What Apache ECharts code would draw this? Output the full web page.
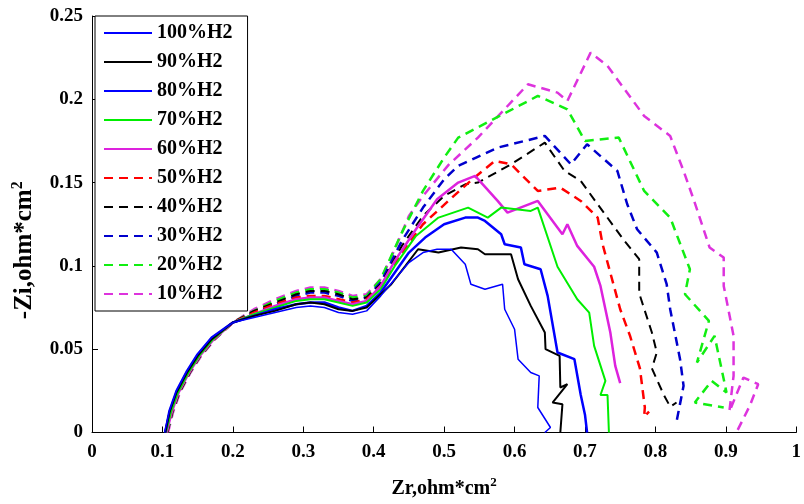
<!DOCTYPE html>
<html>
<head>
<meta charset="utf-8">
<script src="https://cdn.jsdelivr.net/npm/echarts@6/dist/echarts.min.js"></script>
<style>html,body{margin:0;padding:0;background:#fff}#c{width:804px;height:504px}</style>
</head>
<body>
<div id="c"></div>
<script>
const seriesNames = ['100%H2','90%H2','80%H2','70%H2','60%H2','50%H2','40%H2','30%H2','20%H2','10%H2'];
const xTicks = [0,0.1,0.2,0.3,0.4,0.5,0.6,0.7,0.8,0.9,1];
const yTicks = [0,0.05,0.1,0.15,0.2,0.25];

const h100 = [[0.103,0],[0.11,0.013],[0.12,0.025],[0.135,0.037],[0.15,0.047],[0.17,0.057],[0.2,0.066],[0.23,0.069],[0.26,0.072],[0.29,0.075],[0.31,0.076],[0.33,0.075],[0.35,0.072],[0.37,0.071],[0.39,0.073],[0.41,0.082],[0.43,0.092],[0.45,0.102],[0.47,0.108],[0.49,0.11],[0.51,0.11],[0.53,0.101],[0.538,0.089],[0.558,0.086],[0.583,0.089],[0.586,0.074],[0.6,0.062],[0.605,0.044],[0.623,0.036],[0.635,0.034],[0.633,0.015],[0.651,0.003],[0.643,0]];
const h90 = [[0.104,0],[0.11,0.012],[0.12,0.024],[0.135,0.036],[0.15,0.046],[0.17,0.056],[0.2,0.066],[0.23,0.07],[0.26,0.073],[0.29,0.077],[0.31,0.078],[0.33,0.077],[0.35,0.074],[0.37,0.073],[0.39,0.075],[0.41,0.083],[0.425,0.089],[0.445,0.1],[0.463,0.11],[0.492,0.108],[0.524,0.111],[0.548,0.11],[0.558,0.107],[0.586,0.107],[0.595,0.107],[0.605,0.092],[0.623,0.076],[0.643,0.06],[0.644,0.05],[0.664,0.046],[0.665,0.027],[0.675,0.029],[0.654,0.018],[0.668,0.017],[0.665,0]];
const h80 = [[0.104,0],[0.11,0.013],[0.12,0.025],[0.135,0.037],[0.15,0.047],[0.17,0.057],[0.2,0.066],[0.23,0.07],[0.26,0.074],[0.29,0.077],[0.31,0.078],[0.33,0.078],[0.35,0.075],[0.37,0.073],[0.39,0.076],[0.41,0.084],[0.43,0.096],[0.45,0.108],[0.473,0.117],[0.5,0.125],[0.53,0.129],[0.548,0.129],[0.558,0.127],[0.581,0.119],[0.586,0.113],[0.609,0.111],[0.614,0.101],[0.637,0.098],[0.647,0.082],[0.661,0.048],[0.685,0.044],[0.694,0.0225],[0.7,0.0107],[0.703,0]];
const h70 = [[0.105,0],[0.112,0.012],[0.122,0.024],[0.137,0.036],[0.152,0.046],[0.172,0.056],[0.2,0.066],[0.23,0.071],[0.26,0.075],[0.29,0.079],[0.31,0.08],[0.33,0.08],[0.35,0.078],[0.37,0.076],[0.39,0.078],[0.41,0.086],[0.43,0.1],[0.46,0.118],[0.492,0.129],[0.534,0.135],[0.562,0.129],[0.581,0.135],[0.623,0.133],[0.633,0.135],[0.661,0.0995],[0.689,0.08],[0.706,0.072],[0.713,0.052],[0.729,0.031],[0.722,0.0225],[0.732,0.0225],[0.734,0]];
const h60 = [[0.106,0],[0.113,0.012],[0.123,0.024],[0.138,0.036],[0.153,0.046],[0.173,0.056],[0.2,0.066],[0.23,0.071],[0.26,0.076],[0.29,0.08],[0.31,0.081],[0.33,0.081],[0.35,0.079],[0.37,0.077],[0.39,0.079],[0.41,0.088],[0.43,0.103],[0.46,0.122],[0.49,0.14],[0.52,0.15],[0.544,0.154],[0.576,0.139],[0.59,0.132],[0.633,0.139],[0.668,0.119],[0.675,0.125],[0.689,0.112],[0.713,0.0995],[0.722,0.088],[0.736,0.06],[0.743,0.04],[0.75,0.0296]];
const h50 = [[0.106,0],[0.113,0.012],[0.123,0.024],[0.138,0.036],[0.153,0.046],[0.173,0.056],[0.2,0.066],[0.23,0.072],[0.26,0.077],[0.29,0.081],[0.31,0.082],[0.33,0.082],[0.35,0.08],[0.37,0.078],[0.39,0.08],[0.41,0.088],[0.44,0.108],[0.47,0.125],[0.506,0.139],[0.54,0.152],[0.572,0.163],[0.595,0.161],[0.633,0.145],[0.665,0.147],[0.694,0.139],[0.718,0.129],[0.725,0.113],[0.75,0.074],[0.764,0.058],[0.778,0.0385],[0.785,0.015],[0.784,0.0095],[0.791,0.0125]];
const h40 = [[0.107,0],[0.114,0.012],[0.124,0.024],[0.139,0.036],[0.154,0.046],[0.174,0.056],[0.2,0.066],[0.23,0.073],[0.26,0.078],[0.29,0.083],[0.31,0.085],[0.33,0.085],[0.35,0.083],[0.37,0.08],[0.39,0.081],[0.41,0.089],[0.44,0.112],[0.47,0.13],[0.5,0.142],[0.53,0.149],[0.548,0.15],[0.595,0.161],[0.643,0.174],[0.671,0.157],[0.694,0.151],[0.718,0.137],[0.756,0.115],[0.777,0.104],[0.777,0.0835],[0.795,0.06],[0.802,0.048],[0.795,0.0385],[0.812,0.0225],[0.821,0.0155],[0.83,0.018]];
const h30 = [[0.106,0],[0.113,0.013],[0.123,0.025],[0.138,0.037],[0.153,0.047],[0.173,0.057],[0.2,0.066],[0.23,0.072],[0.26,0.077],[0.29,0.082],[0.31,0.084],[0.33,0.084],[0.35,0.082],[0.37,0.079],[0.39,0.081],[0.41,0.09],[0.44,0.115],[0.47,0.135],[0.5,0.152],[0.52,0.16],[0.576,0.171],[0.643,0.178],[0.68,0.161],[0.703,0.173],[0.746,0.157],[0.76,0.137],[0.774,0.122],[0.802,0.108],[0.816,0.089],[0.821,0.074],[0.835,0.044],[0.84,0.028],[0.83,0.0065]];
const h20 = [[0.107,0],[0.114,0.012],[0.124,0.024],[0.139,0.036],[0.154,0.046],[0.174,0.056],[0.2,0.066],[0.23,0.073],[0.26,0.079],[0.29,0.084],[0.31,0.086],[0.33,0.086],[0.35,0.084],[0.37,0.081],[0.39,0.082],[0.41,0.092],[0.44,0.12],[0.47,0.145],[0.5,0.165],[0.52,0.177],[0.633,0.202],[0.675,0.194],[0.7,0.175],[0.748,0.177],[0.784,0.145],[0.821,0.129],[0.849,0.098],[0.842,0.083],[0.876,0.067],[0.859,0.042],[0.884,0.058],[0.901,0.024],[0.88,0.031],[0.856,0.018],[0.897,0.015]];
const h10 = [[0.108,0],[0.115,0.012],[0.125,0.024],[0.14,0.036],[0.155,0.046],[0.175,0.056],[0.2,0.066],[0.23,0.074],[0.26,0.08],[0.29,0.085],[0.31,0.087],[0.33,0.087],[0.35,0.085],[0.37,0.082],[0.39,0.083],[0.41,0.092],[0.43,0.11],[0.45,0.13],[0.47,0.142],[0.506,0.1605],[0.548,0.177],[0.619,0.209],[0.661,0.204],[0.675,0.199],[0.708,0.228],[0.732,0.22],[0.784,0.19],[0.821,0.178],[0.84,0.157],[0.855,0.139],[0.877,0.111],[0.897,0.105],[0.897,0.088],[0.911,0.058],[0.911,0.034],[0.905,0.0125],[0.925,0.033],[0.946,0.029],[0.934,0.016],[0.915,0]];

const seriesData = [h100,h90,h80,h70,h60,h50,h40,h30,h20,h10];
const seriesColors = ['#0000ff','#000000','#0000ff','#00ee00','#dd22dd','#ff0000','#000000','#0000cc','#11ee11','#dd33dd'];
const seriesDashed = [false,false,false,false,false,true,true,true,true,true];
const seriesWidths = [1.5,2,2.5,2,2.5,2.5,2,2.5,2.5,2.5];

const font = '"Liberation Serif","Times New Roman",serif';

const chart = echarts.init(document.getElementById('c'), null, {renderer:'canvas'});
chart.setOption({
  animation:false,
  backgroundColor:'#fff',
  grid:{left:92,right:4,top:16,bottom:66,containLabel:false},
  legend:{
    orient:'vertical', left:95, top:16,
    data:seriesNames,
    backgroundColor:'#fff',
    borderColor:'#000', borderWidth:1,
    padding:[7,15,7,8],
    itemWidth:48, itemHeight:14, itemGap:9,
    itemStyle:{opacity:0},
    textStyle:{fontFamily:font,fontWeight:'bold',fontSize:20,color:'#000',lineHeight:20}
  },
  xAxis:{
    type:'value', min:0, max:1, interval:0.1,
    name:'Zr,ohm*cm{sup|2}', nameLocation:'middle', nameGap:44,
    nameTextStyle:{fontFamily:font,fontWeight:'bold',fontSize:20,color:'#000',
      rich:{sup:{fontFamily:font,fontWeight:'bold',fontSize:13,color:'#000',padding:[0,0,12,0]}}},
    axisLine:{lineStyle:{color:'#000',width:1}},
    axisTick:{inside:true,length:6,lineStyle:{color:'#000'}},
    axisLabel:{fontFamily:font,fontWeight:'bold',fontSize:19,color:'#000',margin:10},
    splitLine:{show:false}
  },
  yAxis:{
    type:'value', min:0, max:0.25, interval:0.05,
    name:'-Zi,ohm*cm{sup|2}', nameLocation:'middle', nameGap:52, nameRotate:90,
    nameTextStyle:{fontFamily:font,fontWeight:'bold',fontSize:25,color:'#000',padding:[0,52,0,0],
      rich:{sup:{fontFamily:font,fontWeight:'bold',fontSize:16,color:'#000',padding:[0,0,14,0]}}},
    axisLine:{show:true,lineStyle:{color:'#000',width:1}},
    axisTick:{show:true,inside:true,length:6,lineStyle:{color:'#000'}},
    axisLabel:{fontFamily:font,fontWeight:'bold',fontSize:19,color:'#000',margin:9},
    splitLine:{show:false}
  },
  series: seriesNames.map((n,i)=>({
    name:n, type:'line', data:seriesData[i], symbol:'none', smooth:false,
    lineStyle:{color:seriesColors[i],width:seriesWidths[i],type:seriesDashed[i]?[9,6]:'solid'},
    itemStyle:{color:seriesColors[i]},
    z: 10-i
  }))
});
</script>
</body>
</html>
